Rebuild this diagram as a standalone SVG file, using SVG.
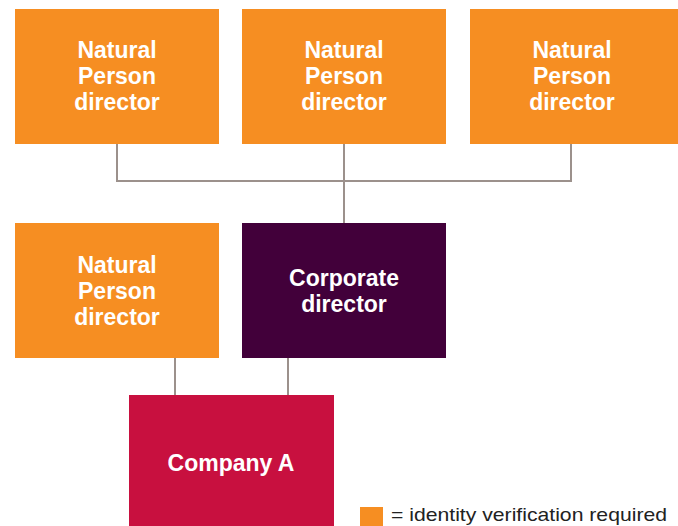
<svg xmlns="http://www.w3.org/2000/svg" width="678" height="526" viewBox="0 0 678 526">
  <style>
    .orange { fill: #F68E22; }
    .purple { fill: #42003A; }
    .crimson { fill: #C8103F; }
    .lbl { font-family: "Liberation Sans", Arial, sans-serif; font-size: 23px; font-weight: bold; fill: #FFFFFF; text-anchor: middle; }
    .legend { font-family: "Liberation Sans", Arial, sans-serif; font-size: 19px; fill: #222222; }
    .link { fill: none; stroke: #9C918C; stroke-width: 2; }
  </style>
  <rect width="678" height="526" fill="#FFFFFF"/>

  <g id="connectors">
    <path class="link" d="M117 143 V181 H571 V143"/>
    <path class="link" d="M344 143 V223"/>
    <path class="link" d="M175 357 V395"/>
    <path class="link" d="M288 357 V395"/>
  </g>

  <g id="np-director-1">
    <rect class="orange" x="15" y="9" width="204" height="135"/>
    <text class="lbl" x="117" y="58">Natural</text>
    <text class="lbl" x="117" y="84">Person</text>
    <text class="lbl" x="117" y="110">director</text>
  </g>
  <g id="np-director-2">
    <rect class="orange" x="242" y="9" width="204" height="135"/>
    <text class="lbl" x="344" y="58">Natural</text>
    <text class="lbl" x="344" y="84">Person</text>
    <text class="lbl" x="344" y="110">director</text>
  </g>
  <g id="np-director-3">
    <rect class="orange" x="470" y="9" width="208" height="135"/>
    <text class="lbl" x="572" y="58">Natural</text>
    <text class="lbl" x="572" y="84">Person</text>
    <text class="lbl" x="572" y="110">director</text>
  </g>
  <g id="np-director-4">
    <rect class="orange" x="15" y="223" width="204" height="135"/>
    <text class="lbl" x="117" y="273">Natural</text>
    <text class="lbl" x="117" y="299">Person</text>
    <text class="lbl" x="117" y="325">director</text>
  </g>
  <g id="corporate-director">
    <rect class="purple" x="242" y="223" width="204" height="135"/>
    <text class="lbl" x="344" y="286">Corporate</text>
    <text class="lbl" x="344" y="312">director</text>
  </g>
  <g id="company-a">
    <rect class="crimson" x="129" y="395" width="205" height="131"/>
    <text class="lbl" x="231" y="471">Company A</text>
  </g>

  <g id="legend">
    <rect class="orange" x="360" y="507" width="23" height="19"/>
    <text class="legend" x="391" y="521" textLength="276" lengthAdjust="spacingAndGlyphs">= identity verification required</text>
  </g>
</svg>
